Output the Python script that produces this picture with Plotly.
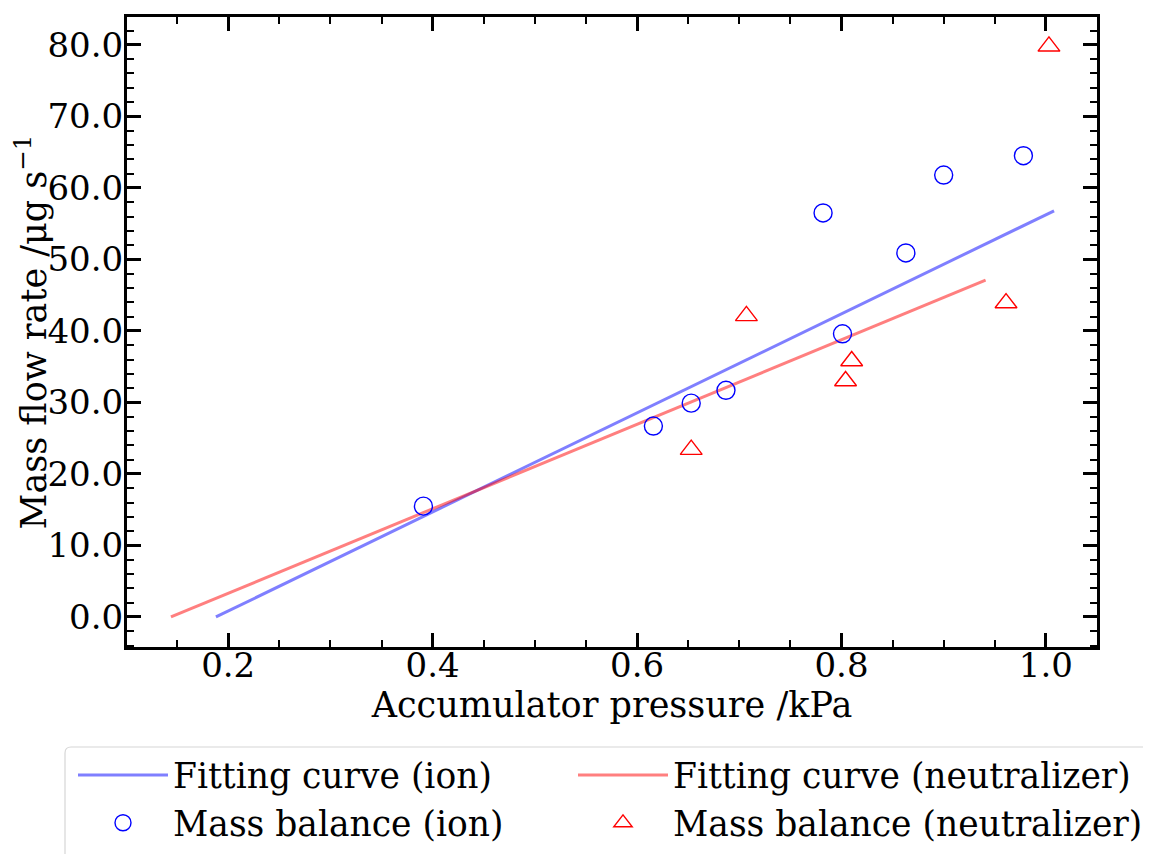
import plotly.graph_objects as go

# fitted lines (end points)
fit_ion_x = [0.188, 1.008]
fit_ion_y = [0.0, 56.8]
fit_neu_x = [0.144, 0.941]
fit_neu_y = [0.0, 47.1]

# mass balance measurements
ion_x = [0.391, 0.616, 0.653, 0.687, 0.782, 0.801, 0.863, 0.900, 0.978]
ion_y = [15.5, 26.7, 29.9, 31.7, 56.5, 39.6, 50.9, 61.8, 64.5]
neu_x = [0.653, 0.707, 0.804, 0.810, 0.961, 1.003]
neu_y = [23.4, 42.1, 33.0, 35.8, 43.9, 79.8]

FONT = "DejaVu Serif"
OFF = 8  # page body margin in the browser
W, H = 1151 - OFF, 854 - OFF
ML, MT = 127 - OFF, 17 - OFF
MR, MB = 54, 207
PW, PH = W - ML - MR, H - MT - MB


def px_x(p):
    # screenshot pixel column -> paper x
    return (p - OFF - ML) / PW


def px_y(p):
    # screenshot pixel row -> paper y
    return (H - MB - (p - OFF)) / PH


fig = go.Figure()
fig.add_trace(go.Scatter(x=fit_ion_x, y=fit_ion_y, mode="lines",
                         name="Fitting curve (ion)", legend="legend",
                         line=dict(color="rgba(0,0,255,0.5)", width=3)))
fig.add_trace(go.Scatter(x=fit_neu_x, y=fit_neu_y, mode="lines",
                         name="Fitting curve (neutralizer)", legend="legend2",
                         line=dict(color="rgba(255,0,0,0.5)", width=3)))
fig.add_trace(go.Scatter(x=ion_x, y=ion_y, mode="markers",
                         name="Mass balance (ion)", legend="legend",
                         marker=dict(symbol="circle-open", size=18, color="blue",
                                     line=dict(width=1.4, color="blue"))))
fig.add_trace(go.Scatter(x=neu_x, y=neu_y, mode="markers",
                         name="Mass balance (neutralizer)", legend="legend2",
                         marker=dict(symbol="triangle-up-open", size=19, color="red",
                                     line=dict(width=1.4, color="red"))))

axis_common = dict(
    showline=True, linecolor="black", linewidth=3, mirror="ticks",
    ticks="inside", ticklen=14, tickwidth=3, tickcolor="black",
    showgrid=False, zeroline=False, automargin=False,
    tickfont=dict(family=FONT, size=34, color="black"),
)

fig.update_xaxes(
    range=[0.101, 1.05], tickvals=[0.2, 0.4, 0.6, 0.8, 1.0], tickformat=".1f",
    ticklabelstandoff=-14,
    minor=dict(dtick=0.05, tick0=0, ticks="inside", ticklen=7, tickwidth=2,
               tickcolor="black", showgrid=False),
    title=dict(text="Accumulator pressure /kPa",
               font=dict(family=FONT, size=35, color="black"), standoff=4),
    **axis_common,
)
fig.update_yaxes(
    range=[-4.2, 83.9], tickvals=[0, 10, 20, 30, 40, 50, 60, 70, 80], tickformat=".1f",
    ticklabelstandoff=-6,
    minor=dict(dtick=2, tick0=0, ticks="inside", ticklen=7, tickwidth=2,
               tickcolor="black", showgrid=False),
    title=dict(text="Mass flow rate /μg s<sup>−1</sup>",
               font=dict(family=FONT, size=35, color="black"), standoff=4),
    **axis_common,
)

# legend frame: only the left and top sides show, the rest runs off the page
x0, y0 = px_x(65), px_y(747)
x1, y1 = px_x(1200), px_y(900)
rx, ry = 6 / PW, 6 / PH
frame = f"M {x0},{y1} L {x0},{y0 - ry} Q {x0},{y0} {x0 + rx},{y0} L {x1},{y0}"
fig.add_shape(type="path", path=frame, xref="paper", yref="paper",
              line=dict(color="#d6d6d6", width=1.2), layer="below")

legend_common = dict(
    orientation="v", xanchor="left", yanchor="top", itemwidth=90,
    font=dict(family=FONT, size=34.5, color="black"),
    bgcolor="rgba(0,0,0,0)", borderwidth=0,
)

fig.update_layout(
    width=W, height=H,
    margin=dict(l=ML, r=MR, t=MT, b=MB, autoexpand=False),
    plot_bgcolor="white", paper_bgcolor="white",
    showlegend=True,
    legend=dict(x=px_x(73), y=px_y(746), **legend_common),
    legend2=dict(x=px_x(573), y=px_y(746), **legend_common),
)

fig.write_html("out.html")
